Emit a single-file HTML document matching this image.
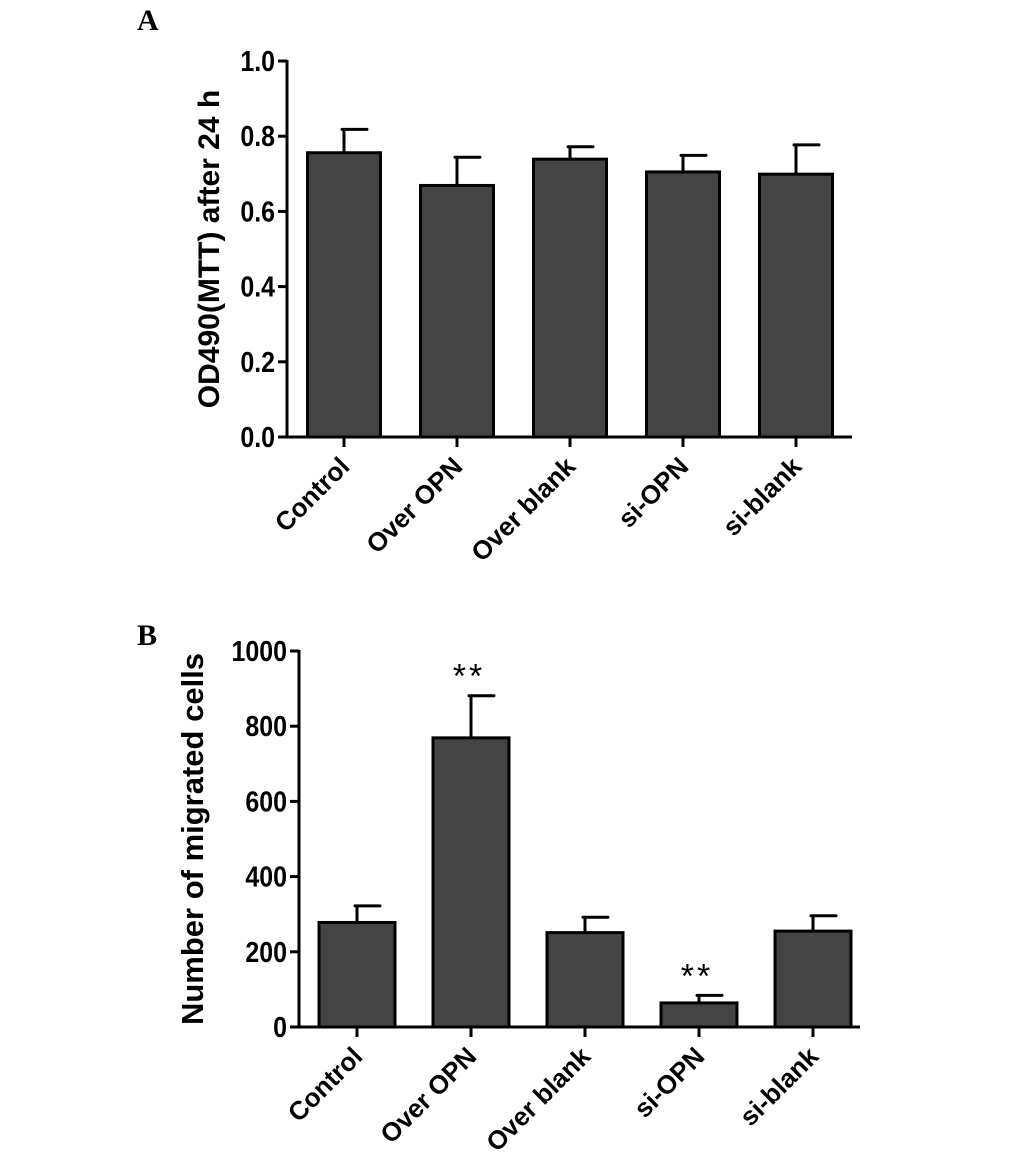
<!DOCTYPE html>
<html><head><meta charset="utf-8"><style>
html,body{margin:0;padding:0;background:#fff;}
svg{display:block;font-family:"Liberation Sans",Arial,sans-serif;}
</style></head><body>
<svg id="fig" width="1033" height="1168" viewBox="0 0 1033 1168">
<text x="137" y="30" font-family="Liberation Serif,serif" font-weight="bold" font-size="30">A</text>
<text x="137" y="645" font-family="Liberation Serif,serif" font-weight="bold" font-size="30">B</text>
<g id="chartA"></g>
<g id="chartB"></g>
</svg>
<script>
const categories = ["Control","Over OPN","Over blank","si-OPN","si-blank"];
const valuesA = [0.756,0.669,0.739,0.705,0.699];
const errorsA = [0.062,0.075,0.033,0.044,0.078];
const ticksA = [0,0.2,0.4,0.6,0.8,1.0];
const tickLabelsA = ["0.0","0.2","0.4","0.6","0.8","1.0"];
const valuesB = [278,769,251,64,255];
const errorsB = [44,112,41,20,41];
const ticksB = [0,200,400,600,800,1000];
const tickLabelsB = ["0","200","400","600","800","1000"];
const starsB = ["","**","","**",""];

const NS="http://www.w3.org/2000/svg";
function mk(parent,tag,attrs){const e=document.createElementNS(NS,tag);for(const k in attrs)e.setAttribute(k,attrs[k]);parent.appendChild(e);return e;}

function draw(g,cfg,vals,errs,ticks,tickLabels,stars){
  const y=v=>cfg.y0-(v-cfg.min)/(cfg.max-cfg.min)*(cfg.y0-cfg.y1);
  const x=i=>cfg.xFirst+i*cfg.step;
  const ax=mk(g,'line',{x1:cfg.axX,y1:cfg.y1-1,x2:cfg.axX,y2:cfg.y0,stroke:'#000','stroke-width':3});
  
  
  const bx=mk(g,'line',{x1:cfg.axX-9,y1:cfg.y0,x2:cfg.xEnd,y2:cfg.y0,stroke:'#000','stroke-width':3});
  
  
  ticks.forEach((t,i)=>{
    const tk=mk(g,'line',{x1:cfg.axX-9,y1:y(t),x2:cfg.axX,y2:y(t),stroke:'#000','stroke-width':3});
    
    
    const tx=cfg.axX-12, ty=y(t)+10;
    const tl=mk(g,'text',{x:0,y:0,'text-anchor':'end','font-size':29,'font-weight':'bold',transform:`translate(${tx} ${ty}) scale(0.86 1)`});
    tl.textContent=tickLabels[i];
    
    
  });
  vals.forEach((v,i)=>{
    const cx=x(i);
    const top=y(v+errs[i]);
    const el=mk(g,'line',{x1:cx,y1:y(v),x2:cx,y2:top,stroke:'#000','stroke-width':3});
    
    
    const ec=mk(g,'line',{x1:cx-2,y1:top,x2:cx+23,y2:top,stroke:'#000','stroke-width':3,'stroke-linecap':'round'});
    
    
    const r=mk(g,'rect',{x:cx-cfg.bw/2,y:y(v),width:cfg.bw,height:cfg.y0-y(v),fill:'#444',stroke:'#000','stroke-width':3});
    
    
    const xt=mk(g,'line',{x1:cx,y1:cfg.y0,x2:cx,y2:cfg.y0+10,stroke:'#000','stroke-width':3});
    
    
    const lx=cx+7, ly=cfg.y0+31;
    const lt=mk(g,'text',{x:lx,y:ly,'text-anchor':'end','font-size':26,'font-weight':'bold',transform:`rotate(-45 ${lx} ${ly})`});
    lt.textContent=categories[i];
    
    
    if(stars&&stars[i]){
      const s=mk(g,'text',{x:cx-2,y:top-8,'text-anchor':'middle','font-size':34,'letter-spacing':'3'});
      s.textContent=stars[i];
      
      
    }
  });
  const t=mk(g,'text',{x:cfg.titleX,y:(cfg.y0+cfg.y1)/2,'text-anchor':'middle','font-size':cfg.titleSize,'font-weight':'bold',transform:`rotate(-90 ${cfg.titleX} ${(cfg.y0+cfg.y1)/2})`});
  t.textContent=cfg.title;
  
  
}
draw(document.getElementById('chartA'),{axX:287,y0:437,y1:61,min:0,max:1,xFirst:344,step:113,bw:73,xEnd:852,titleX:219,titleSize:30,title:"OD490(MTT) after 24 h"},valuesA,errorsA,ticksA,tickLabelsA,null);
draw(document.getElementById('chartB'),{axX:299,y0:1027,y1:651,min:0,max:1000,xFirst:357,step:114,bw:76,xEnd:860,titleX:203,titleSize:31,title:"Number of migrated cells"},valuesB,errorsB,ticksB,tickLabelsB,starsB);
</script>
</body></html>
